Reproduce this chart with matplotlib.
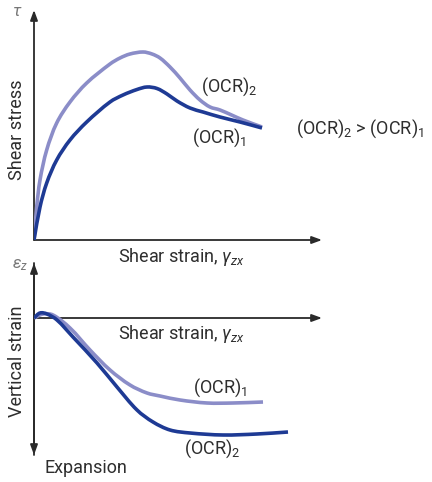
import numpy as np
import matplotlib
matplotlib.use("Agg")
import matplotlib.pyplot as plt
from matplotlib.path import Path
from matplotlib.patches import PathPatch

plt.rcParams['font.family'] = ['Roboto', 'DejaVu Sans']
plt.rcParams['mathtext.fontset'] = 'custom'
plt.rcParams['mathtext.rm'] = 'Roboto'
plt.rcParams['mathtext.it'] = 'Roboto:italic'

# ---- data (arbitrary schematic units) ----
# top panel: shear stress vs shear strain
top_ocr2_strain = [0, 0.27, 0.6, 1.27, 2.27, 3.6, 5.27, 7.6, 8.6, 9.6, 10.9, 11.8, 12.6, 13.6, 14.6, 15.6, 16.6, 17.6, 18.6, 20.9, 22.8]
top_ocr2_stress = [0, 3.3, 6.0, 9.0, 11.7, 13.8, 15.7, 17.6, 18.2, 18.6, 18.8, 18.6, 18.2, 17.3, 16.2, 15.0, 14.0, 13.3, 13.0, 12.0, 11.3]
top_ocr1_strain = [0, 0.6, 1.27, 2.27, 3.6, 5.27, 7.6, 8.9, 10.3, 11.3, 12.3, 13.3, 14.3, 15.6, 16.9, 18.6, 20.6, 22.8]
top_ocr1_stress = [0, 3.3, 5.7, 8.0, 10.0, 11.8, 13.8, 14.5, 15.05, 15.3, 15.15, 14.6, 13.9, 13.2, 12.8, 12.3, 11.8, 11.2]
# bottom panel: vertical strain vs shear strain
bot_ocr2_strain = [0, 0.6, 1.3, 2.3, 3.9, 6.3, 8.3, 10.3, 11.9, 13.6, 15.6, 18.9, 22.3, 25.4]
bot_ocr2_vert = [0, 0.5, 0.4, -0.2, -1.9, -4.5, -6.9, -9.2, -10.4, -11.2, -11.5, -11.7, -11.6, -11.4]
bot_ocr1_strain = [0, 0.9, 1.9, 3.6, 5.6, 7.6, 9.6, 11.3, 12.6, 14.6, 17.3, 19.9, 22.9]
bot_ocr1_vert = [0, 0.4, 0.3, -1.0, -3.2, -5.2, -6.7, -7.5, -7.8, -8.2, -8.5, -8.5, -8.4]

DARK = '#1e3a94'
LIGHT = '#8b8dc8'
AXC = '#2a2a2a'
TXT = '#2e2e2e'

W, H = 432, 482
fig = plt.figure(figsize=(W / 100, H / 100), dpi=100)

def smooth_path(xs, ys):
    pts = np.column_stack([xs, ys]).astype(float)
    n = len(pts)
    tangents = []
    for i in range(n):
        a = pts[max(i - 1, 0)]
        b = pts[min(i + 1, n - 1)]
        d = b - a
        tangents.append(d / (np.hypot(*d) + 1e-12))
    verts = [pts[0]]
    codes = [Path.MOVETO]
    for i in range(n - 1):
        p1, p2 = pts[i], pts[i + 1]
        L = np.hypot(*(p2 - p1))
        c1 = p1 + tangents[i] * L / 3.0
        c2 = p2 - tangents[i + 1] * L / 3.0
        verts += [c1, c2, p2]
        codes += [Path.CURVE4] * 3
    return Path(verts, codes)

def draw_curve(ax, xs, ys, color):
    patch = PathPatch(smooth_path(xs, ys), facecolor='none', edgecolor=color,
                      lw=2.6, capstyle='butt', joinstyle='round', zorder=3)
    ax.add_patch(patch)

def arrow(ax, start, end):
    ax.annotate('', xy=end, xytext=start, xycoords='data',
                arrowprops=dict(arrowstyle='-|>,head_length=0.6,head_width=0.22',
                                color=AXC, lw=1.3, shrinkA=0, shrinkB=0),
                annotation_clip=False, zorder=2)

def ftext(px, py, s, color=TXT, **kw):
    fig.text(px / W, 1 - py / H, s, color=color, **kw)

# ---- top panel ----
ax1 = fig.add_axes([34 / W, (H - 240) / H, 288 / W, 230 / H])
ax1.set_xlim(0, 28.8)
ax1.set_ylim(0, 23.0)
ax1.axis('off')
arrow(ax1, (0, 0), (28.8, 0))
arrow(ax1, (0, 0), (0, 23.0))
draw_curve(ax1, top_ocr2_strain, top_ocr2_stress, LIGHT)
draw_curve(ax1, top_ocr1_strain, top_ocr1_stress, DARK)

# ---- bottom panel ----
ax2 = fig.add_axes([34 / W, (H - 455) / H, 288 / W, 192 / H])
ax2.set_xlim(0, 28.8)
ax2.set_ylim(-13.7, 5.5)
ax2.axis('off')
arrow(ax2, (0, -13.7), (0, 5.5))
arrow(ax2, (0, 5.5), (0, -13.7))
arrow(ax2, (0, 0), (28.8, 0))
draw_curve(ax2, bot_ocr1_strain, bot_ocr1_vert, LIGHT)
draw_curve(ax2, bot_ocr2_strain, bot_ocr2_vert, DARK)

fs = 13
ftext(17, 12, r'$\tau$', fontsize=12, color='#777777', ha='center', va='center')
ftext(17, 130, 'Shear stress', fontsize=fs, rotation=90, ha='center', va='center')
ftext(201, 87, r'(OCR)$_2$', fontsize=fs, ha='left', va='center')
ftext(192, 138, r'(OCR)$_1$', fontsize=fs, ha='left', va='center')
ftext(296, 129, r'(OCR)$_2$ > (OCR)$_1$', fontsize=fs, ha='left', va='center')
ftext(118, 257, r'Shear strain, $\gamma_{zx}$', fontsize=fs, ha='left', va='center')

ftext(20, 265, r'$\varepsilon_z$', fontsize=12, color='#777777', ha='center', va='center')
ftext(17, 361, 'Vertical strain', fontsize=fs, rotation=90, ha='center', va='center')
ftext(118, 334, r'Shear strain, $\gamma_{zx}$', fontsize=fs, ha='left', va='center')
ftext(193, 388, r'(OCR)$_1$', fontsize=fs, ha='left', va='center')
ftext(184, 449, r'(OCR)$_2$', fontsize=fs, ha='left', va='center')
ftext(45, 468, 'Expansion', fontsize=fs, ha='left', va='center')

fig.savefig('out.png', dpi=100)
